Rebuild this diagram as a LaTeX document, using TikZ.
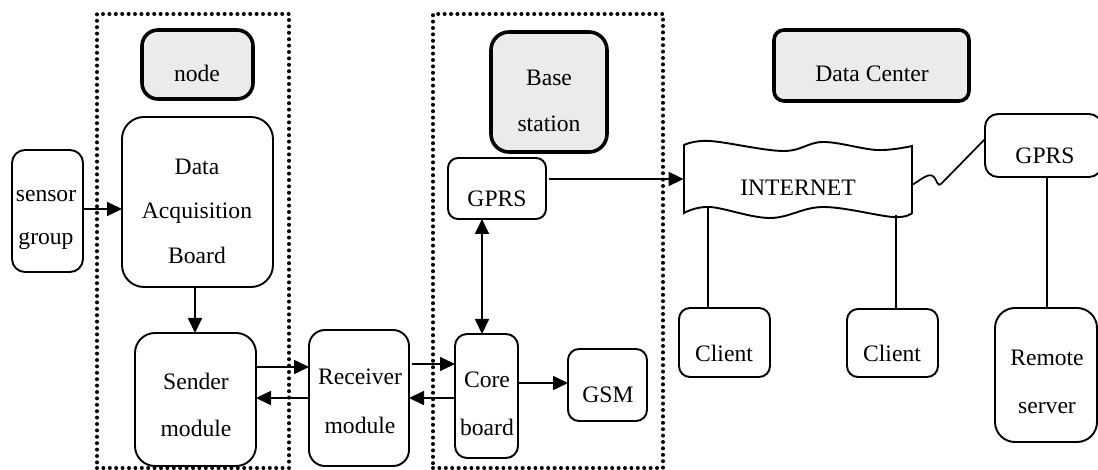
\documentclass[tikz,border=0pt]{standalone}
\usepackage{fontspec}
\setmainfont{Liberation Serif}
\usetikzlibrary{arrows.meta,fit,calc}

\begin{document}
\begin{tikzpicture}[x=0.5pt,y=-0.5pt,
  every node/.style={font=\fontsize{11.8pt}{14pt}\selectfont},
  box/.style={draw, line width=0.95pt, rounded corners=#1, inner sep=0pt, outer sep=0pt},
  box/.default=6pt,
  hdr/.style={draw, line width=1.8pt, fill=black!8, rounded corners=#1, inner sep=0pt, outer sep=0pt},
  hdr/.default=8pt,
  lbl/.style={anchor=base, inner sep=0pt},
  grp/.style={draw, line width=2pt, line cap=round, dash pattern=on 0pt off 3.2pt, inner sep=0pt},
  link/.style={line width=0.85pt},
  tip/.tip={Triangle[length=7.5pt,width=7pt]},
  arr/.style={link, -tip},
  biarr/.style={link, tip-tip},
]
\useasboundingbox (0,0) rectangle (1098,470);

% group frames
\node[grp, fit={(97,14)(289,468)}] (nodeframe) {};
\node[grp, fit={(433,14)(663,468)}] (baseframe) {};

% headers
\node[hdr=8pt, fit={(142,30)(253,99)}] (hnode) {};
\node[lbl] (hnode-t) at (197,82) {node};
\node[hdr=9pt, fit={(491,32)(607,152)}] (hbase) {};
\node[lbl] (hbase-t1) at (549,86) {Base};
\node[lbl] (hbase-t2) at (549,132) {station};
\node[hdr=5pt, fit={(774,30)(969,101)}] (hdc) {};
\node[lbl] (hdc-t) at (872,82) {Data Center};

% sensor node
\node[box=6.5pt, fit={(12,150)(83,272)}] (sensor) {};
\node[lbl] (sensor-t1) at (46,202) {sensor};
\node[lbl] (sensor-t2) at (46,245) {group};
\node[box=11pt, fit={(122,117)(273,287)}] (dab) {};
\node[lbl] (dab-t1) at (197,175) {Data};
\node[lbl] (dab-t2) at (197,219) {Acquisition};
\node[lbl] (dab-t3) at (197,264) {Board};
\node[box=10pt, fit={(135,333)(256,466)}] (sender) {};
\node[lbl] (sender-t1) at (196,389) {Sender};
\node[lbl] (sender-t2) at (196,436) {module};

% receiver
\node[box=8pt, fit={(309,330)(409,466)}] (receiver) {};
\node[lbl] (receiver-t1) at (360,385) {Receiver};
\node[lbl] (receiver-t2) at (360,433) {module};

% base station
\node[box=5pt, fit={(448,158)(546,219)}] (gprs1) {};
\node[lbl] (gprs1-t) at (497,207) {GPRS};
\node[box=6pt, fit={(455,334)(518,458)}] (core) {};
\node[lbl] (core-t1) at (487,387) {Core};
\node[lbl] (core-t2) at (487,435) {board};
\node[box=5.5pt, fit={(568,349)(647,421)}] (gsm) {};
\node[lbl] (gsm-t) at (608,402) {GSM};

% data center
\node[inner sep=0pt, fit={(684,141)(912,218)}] (inet) {};
\draw[line width=0.95pt]
  plot[smooth, tension=0.6] coordinates {(684,145) (710,141) (783,151) (823,142) (877,150) (912,146)}
  -- plot[smooth, tension=0.6] coordinates {(912,213) (893,217) (823,207) (770,218) (710,207) (684,213)}
  -- cycle;
\node[lbl] (inet-t) at (798,196) {INTERNET};
\coordinate (inetA) at (708,206);
\coordinate (inetB) at (896,215);
\coordinate (inetR) at (912,185);

\node[box=6.5pt, fit={(985,114)(1102,177)}] (gprs2) {};
\node[lbl] (gprs2-t) at (1045,164) {GPRS};
\node[box=5.5pt, fit={(679,308)(770,377)}] (cl1) {};
\node[lbl] (cl1-t) at (724,362) {Client};
\node[box=5.5pt, fit={(847,309)(938,377)}] (cl2) {};
\node[lbl] (cl2-t) at (892,362) {Client};
\node[box=10pt, fit={(995,308)(1097,442)}] (remote) {};
\node[lbl] (remote-t1) at (1047,365) {Remote};
\node[lbl] (remote-t2) at (1047,413) {server};

% connectors
\draw[arr] (sensor.east |- 0,209) -- (dab.west |- 0,209);
\draw[arr] (dab.south -| 195,0) -- (sender.north -| 195,0);
\draw[arr] (sender.east |- 0,367) -- (receiver.west |- 0,367);
\draw[arr] (receiver.west |- 0,398) -- (sender.east |- 0,398);
\draw[arr] ($(receiver.east |- 0,364)+(3,0)$) -- (core.west |- 0,364);
\draw[arr] (core.west |- 0,398) -- (receiver.east |- 0,398);
\draw[arr] (core.east |- 0,383) -- (gsm.west |- 0,383);
\draw[biarr] (gprs1.south -| 482,0) -- (core.north -| 482,0);
\draw[arr] ($(gprs1.east |- 0,179)+(3,0)$) -- (inet.west |- 0,179);
\draw[link] (inetA) -- (cl1.north -| inetA);
\draw[link] (inetB) -- (cl2.north -| inetB);
\draw[link] (gprs2.south -| 1047,0) -- (remote.north -| 1047,0);
\draw[link] (inetR) .. controls (922,179) and (929,172) .. (934,177)
  .. controls (937,181) and (938,187) .. (941,184) -- (gprs2.west |- 0,139);
\end{tikzpicture}
\end{document}
